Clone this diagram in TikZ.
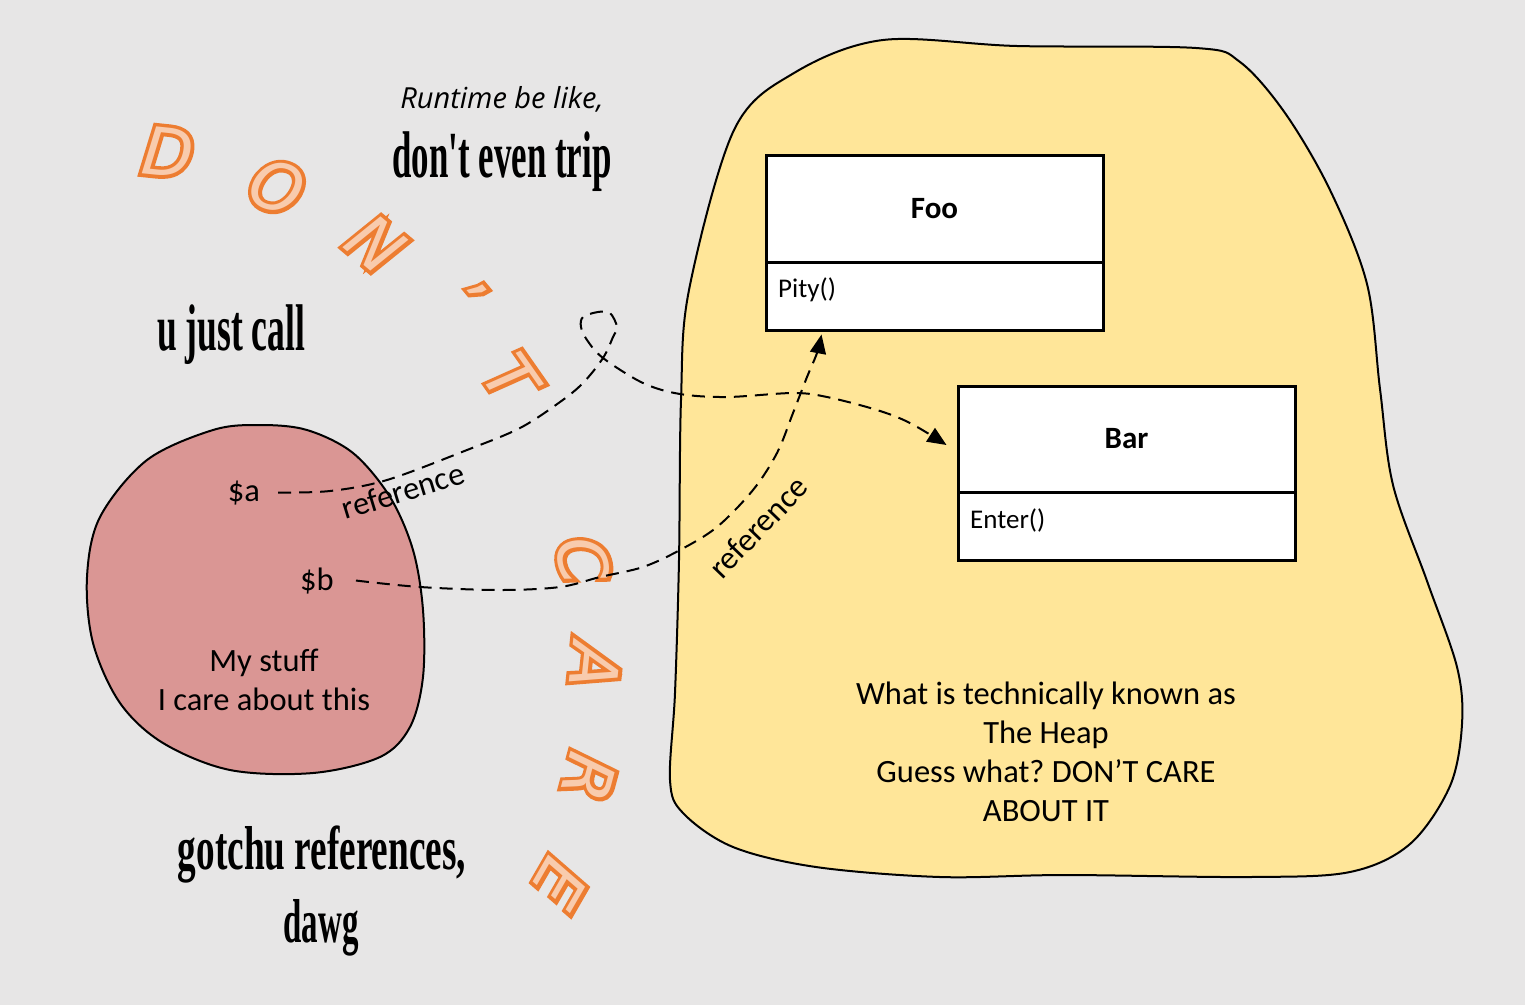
\documentclass[tikz,border=0pt]{standalone}
\usepackage{fontspec}
\usepackage{graphicx}
\usetikzlibrary{arrows.meta,calc}
\setmainfont{Carlito}
\newfontfamily\runfont{Open Sans}
\newfontfamily\condfont{Liberation Serif}
\newfontfamily\dcbold{DejaVu Sans Oblique}[FakeBold=11]
\newfontfamily\dcnorm{DejaVu Sans Oblique}
\definecolor{bgcol}{HTML}{E7E6E6}
\definecolor{heapcol}{HTML}{FFE699}
\definecolor{stuffcol}{HTML}{DA9694}
\definecolor{dcline}{HTML}{ED7D31}
\definecolor{dcfill}{HTML}{F8CBAD}
\frenchspacing
\newcommand\mainsz{\fontsize{32.5}{39}\selectfont}
\newcommand\smallsz{\fontsize{27}{32}\selectfont}
\newcommand\cond[3]{\resizebox{#1pt}{\height}{\condfont\bfseries\fontsize{#2}{#2}\selectfont #3}}
\newcommand\dcl[4]{\node[dcletter, rotate=#3] (#1) at (#2) {\makebox[0pt]{\color{dcline}\dcbold #4}\makebox[0pt]{\color{dcfill}\dcnorm #4}};}
\tikzset{
  txt/.style={inner sep=0pt, font=\mainsz},
  blob/.style={draw=black, line width=2pt},
  umlbox/.style={draw=black, fill=white, line width=3pt, inner sep=0pt, minimum width=337pt},
  ref/.style={draw=black, line width=2pt, dash pattern=on 13pt off 8pt, -{Triangle[length=19pt,width=16pt]}},
  dcletter/.style={inner sep=0pt, font=\fontsize{66}{66}\selectfont},
}
\begin{document}
\begin{tikzpicture}[x=1pt,y=-1pt]
\fill[bgcol] (0,0) rectangle (1525,1005);
\useasboundingbox (0,0) rectangle (1525,1005);

% the heap
\draw[blob, fill=heapcol] plot[smooth cycle, tension=0.55] coordinates {
 (689,290) (734,130) (794,73) (883,40) (1017,46) (1196,48) (1240,62) (1285,113)
 (1330,190) (1367,284) (1380,389) (1393,485) (1427,581) (1457,667) (1462,724)
 (1450,786) (1410,844) (1350,872) (1250,877) (1065,875) (940,877) (816,867)
 (733,847) (683,813) (670,780) (675,693) (679,560) (681,400)};

% my stuff
\draw[blob, fill=stuffcol] plot[smooth cycle, tension=0.55] coordinates {
 (260,425) (307,430) (353,453) (390,497) (413,550) (423,610) (423,677) (410,727)
 (380,757) (313,773) (230,770) (163,743) (120,703) (93,643) (87,577) (100,517)
 (147,460) (213,430)};

% classes
\node[umlbox, minimum height=107pt, font=\fontsize{31}{36}\selectfont\bfseries] (foot) at (934.5,208.5) {Foo};
\node[umlbox, minimum height=68pt] (foom) at (934.5,296) {};
\node[txt, font=\smallsz, anchor=base west] (pity) at (778,297) {Pity()};
\node[umlbox, minimum height=106pt, font=\fontsize{31}{36}\selectfont\bfseries] (bart) at (1126.5,439) {Bar};
\node[umlbox, minimum height=68pt] (barm) at (1126.5,526) {};
\node[txt, font=\smallsz, anchor=base west] (enter) at (970,528) {Enter()};

% texts
\node[txt, align=center, anchor=base] (heaptxt) at (1046,821) {What is technically known as\\The Heap\\Guess what? DON’T CARE\\ABOUT IT};
\node[txt, align=center, anchor=base] (mystuff) at (264,710) {My stuff\\I care about this};
\node[txt, anchor=base] (sa) at (244,501) {\$a};
\node[txt, anchor=base] (sb) at (317,590) {\$b};
\node[txt, anchor=base, font=\runfont\itshape\fontsize{29}{32}\selectfont] (runtime) at (502,108) {Runtime be like,};
\node[txt, anchor=base] (trip) at (502,177) {\cond{219}{66}{don't even trip}};
\node[txt, anchor=base] (call) at (231,350) {\cond{148}{66}{u just call}};
\node[txt, anchor=base] (gotchu) at (322,869) {\cond{288}{62}{gotchu references,}};
\node[txt, anchor=base] (dawg) at (321,942) {\cond{75}{62}{dawg}};

% DON'T CARE letters
\dcl{dD}{168,152}{-6}{D}
\dcl{dO}{277,187}{-20}{O}
\dcl{dN}{376,244}{-40}{N}
\dcl{dAp}{462,297}{-50}{’}
\dcl{dT}{511,378}{-55}{T}
\dcl{cC}{583,560}{-78}{C}
\dcl{cA}{595,666}{-96}{A}
\dcl{cR}{589,778}{-105}{R}
\dcl{cE}{560,884}{-120}{E}

% references
\draw[ref] plot[smooth, tension=0.55] coordinates {
 ($(sa.east)+(18,0)$) (330,491) (387,480) (467,450) (520,428) (560,402) (583,383)
 (603,358) (613,337) (617,327) (610,313) (598,312) (583,317) (581,327) (587,340)
 (603,358) (643,383) (680,394) (727,397) (793,393) (827,397) (877,410) (910,423)
 ($(bart.west)+(-10,6)$)};
\draw[ref] plot[smooth, tension=0.55] coordinates {
 ($(sb.east)+(22,0)$) (420,587) (500,590) (560,587) (600,577) (643,567) (680,550)
 (717,527) (753,490) (777,453) (793,413) (807,377) (817,353)
 ($(foom.south west)+(57,3)$)};
\node[txt, rotate=17] (ref1) at (403,491) {reference};
\node[txt, rotate=46] (ref2) at (758,527) {reference};
\end{tikzpicture}
\end{document}
